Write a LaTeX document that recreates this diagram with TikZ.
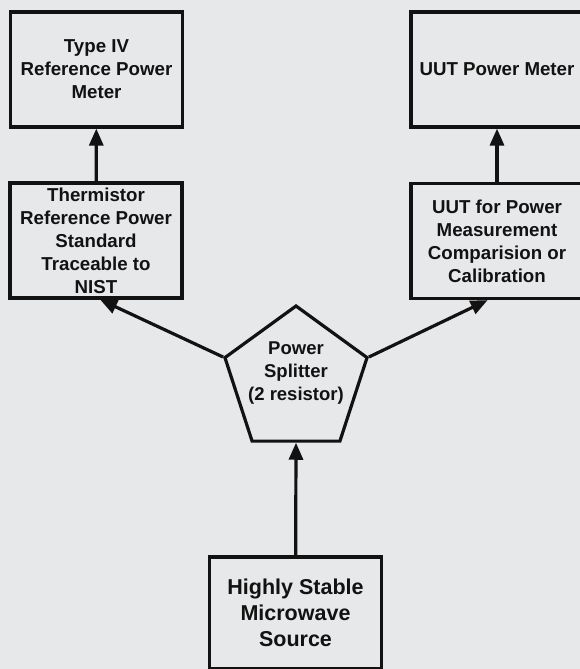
\documentclass[tikz,border=0pt]{standalone}
\usepackage{fontspec}
\setmainfont{Liberation Sans}
\usetikzlibrary{shapes.geometric,arrows.meta}
\definecolor{paper}{RGB}{230,232,234}
\definecolor{ink}{RGB}{18,18,18}

\begin{document}
\begin{tikzpicture}[x=1pt,y=-1pt,
    box/.style={draw=ink,line width=3.2pt,minimum width=172pt,minimum height=115pt,
      inner sep=0pt,align=center,text=ink,font=\fontsize{18.7}{23}\selectfont\bfseries},
    srcbox/.style={box,font=\fontsize{21.5}{26}\selectfont\bfseries,minimum height=112pt},
    splitter/.style={draw=ink,line width=3.2pt,regular polygon,regular polygon sides=5,
      minimum size=149.4pt,inner sep=0pt},
    lbl/.style={align=center,text=ink,inner sep=0pt,font=\fontsize{18.5}{23}\selectfont\bfseries},
    arr/.style={draw=ink,line width=3.2pt,-{Triangle[length=17pt,width=14pt]}}]
    \useasboundingbox (0,0) rectangle (580,669);
    \clip (0,0) rectangle (580,669);
    \fill[paper] (0,0) rectangle (580,669);
    % meters
    \node[box] (refmeter) at (96.5,69.5) {Type IV\\Reference Power\\Meter};
    \node[box] (uutmeter) at (497,69.5) {UUT Power Meter};
    % sensors
    \node[box] (thermistor) at (96,240.5) {Thermistor\\Reference Power\\Standard\\Traceable to\\NIST};
    \node[box] (uut) at (497,241) {UUT for Power\\Measurement\\Comparision or\\Calibration};
    % splitter and source
    \node[splitter] (split) at (296,380.7) {};
    \node[lbl] (splitlbl) at (296,373) {Power\\Splitter\\(2 resistor)};
    \node[srcbox] (source) at (295.5,613) {Highly Stable\\Microwave\\Source};
    \draw[arr] (thermistor) -- (refmeter);
    \draw[arr] (uut) -- (uutmeter);
    \draw[arr] (split.corner 2) -- (thermistor.-86);
    \draw[arr] (split.corner 5) -- (uut.261);
    \draw[arr] (source) -- (split.south);
\end{tikzpicture}
\end{document}
